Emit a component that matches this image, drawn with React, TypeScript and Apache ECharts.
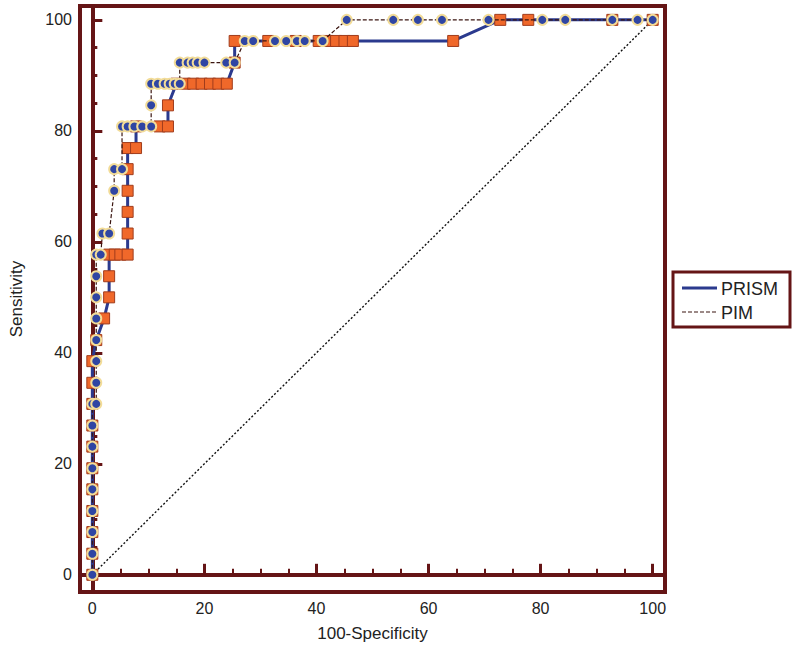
import React, { useEffect, useRef } from "react";
import * as echarts from "echarts";

// 100-Specificity (x) and Sensitivity (y) for each ROC curve
const prismSpec = [0, 0, 0, 0, 0, 0, 0, 0, 0, 0, 0, 0.7, 2.1, 3.0, 3.0, 3.0, 4.0, 5.0, 6.3, 6.3, 6.3, 6.3, 6.3, 6.3, 7.8, 7.8, 12.0, 13.5, 13.5, 15.0, 16.5, 18.0, 19.5, 21.0, 22.5, 24.0, 25.4, 25.4, 31.4, 36.3, 40.4, 42.0, 43.5, 45.0, 46.5, 64.4, 72.8, 77.8, 92.8, 100];
const prismSens = [0, 3.8, 7.7, 11.5, 15.4, 19.2, 23.1, 26.9, 30.8, 34.6, 38.5, 42.3, 46.2, 50.0, 53.8, 57.7, 57.7, 57.7, 57.7, 61.5, 65.4, 69.2, 73.1, 76.9, 76.9, 80.8, 80.8, 80.8, 84.6, 88.5, 88.5, 88.5, 88.5, 88.5, 88.5, 88.5, 92.3, 96.2, 96.2, 96.2, 96.2, 96.2, 96.2, 96.2, 96.2, 96.2, 100, 100, 100, 100];

const pimSpec = [0, 0, 0, 0, 0, 0, 0, 0, 0, 0.7, 0.7, 0.7, 0.7, 0.7, 0.7, 0.7, 0.7, 1.5, 1.8, 3.0, 3.9, 3.9, 5.3, 5.3, 6.3, 7.5, 8.9, 10.5, 10.5, 10.5, 11.7, 12.9, 13.8, 14.7, 15.6, 15.6, 17.0, 17.9, 18.8, 20.0, 23.9, 25.4, 27.2, 28.7, 32.6, 34.6, 36.5, 37.9, 41.1, 45.4, 53.7, 58.1, 62.4, 70.7, 80.3, 84.4, 92.8, 97.3, 100];
const pimSens = [0, 3.8, 7.7, 11.5, 15.4, 19.2, 23.1, 26.9, 30.8, 30.8, 34.6, 38.5, 42.3, 46.2, 50.0, 53.8, 57.7, 57.7, 61.5, 61.5, 69.2, 73.1, 73.1, 80.8, 80.8, 80.8, 80.8, 80.8, 84.6, 88.5, 88.5, 88.5, 88.5, 88.5, 88.5, 92.3, 92.3, 92.3, 92.3, 92.3, 92.3, 92.3, 96.2, 96.2, 96.2, 96.2, 96.2, 96.2, 96.2, 100, 100, 100, 100, 100, 100, 100, 100, 100, 100];

const diagonalX = [0, 100];
const diagonalY = [0, 100];

const majorTicks = [0, 20, 40, 60, 80, 100];
const minorTicks = [5, 10, 15, 25, 30, 35, 45, 50, 55, 65, 70, 75, 85, 90, 95];

const seriesNames = ["PRISM", "PIM"];

const MAROON = "#651516";
const FONT = "Liberation Sans, Arial, sans-serif";

const zip = (a: number[], b: number[]) => a.map((v, i) => [v, b[i]]);

export default function App() {
  const ref = useRef<HTMLDivElement>(null);
  useEffect(() => {
    if (!ref.current) return;
    const chart = echarts.init(ref.current, null, { renderer: "svg" });
    const xRange = { min: -2.2, max: 102.2 };
    const yRange = { min: -3.1, max: 102.5 };
    chart.setOption({
      animation: false,
      backgroundColor: "#ffffff",
      grid: {
        left: 80,
        right: 135,
        top: 6,
        bottom: 61,
        containLabel: false,
        outerBoundsMode: "none",
        show: true,
        borderColor: MAROON,
        borderWidth: 4,
      },
      xAxis: [
        {
          type: "value",
          ...xRange,
          name: "100-Specificity",
          nameLocation: "middle",
          nameGap: 33,
          nameTextStyle: { fontFamily: FONT, fontSize: 17, color: "#222" },
          axisLine: { show: true, lineStyle: { color: MAROON, width: 4 } },
          axisTick: { show: true, inside: true, length: 11, customValues: majorTicks, lineStyle: { color: MAROON, width: 3 } },
          axisLabel: { customValues: majorTicks, margin: 8, fontFamily: FONT, fontSize: 16, color: "#222" },
          splitLine: { show: false },
        },
        {
          type: "value",
          ...xRange,
          position: "bottom",
          axisLine: { show: false },
          axisTick: { show: true, inside: true, length: 6, customValues: minorTicks, lineStyle: { color: MAROON, width: 2 } },
          axisLabel: { show: false },
          splitLine: { show: false },
        },
      ],
      yAxis: [
        {
          type: "value",
          ...yRange,
          name: "Sensitivity",
          nameLocation: "middle",
          nameGap: 55,
          nameTextStyle: { fontFamily: FONT, fontSize: 17, color: "#222" },
          axisLine: { show: true, lineStyle: { color: MAROON, width: 4 } },
          axisTick: { show: true, inside: true, length: 10, customValues: majorTicks, lineStyle: { color: MAROON, width: 3 } },
          axisLabel: { customValues: majorTicks, margin: 8, fontFamily: FONT, fontSize: 16, color: "#222" },
          splitLine: { show: false },
        },
        {
          type: "value",
          ...yRange,
          position: "left",
          axisLine: { show: false },
          axisTick: { show: true, inside: true, length: 5, customValues: minorTicks, lineStyle: { color: MAROON, width: 3 } },
          axisLabel: { show: false },
          splitLine: { show: false },
        },
      ],
      series: [
        {
          type: "line",
          name: "diagonal",
          data: zip(diagonalX, diagonalY),
          showSymbol: false,
          lineStyle: { color: "#111", width: 1.4, type: [2, 2] },
          z: 1,
        },
        {
          type: "line",
          name: seriesNames[0],
          data: zip(prismSpec, prismSens),
          symbol: "rect",
          symbolSize: 11,
          itemStyle: { color: "#f0682a", borderColor: "#a03c1c", borderWidth: 1 },
          lineStyle: { color: "#2b3a8e", width: 3 },
          z: 2,
        },
        {
          type: "line",
          name: seriesNames[1],
          data: zip(pimSpec, pimSens),
          symbol: "circle",
          symbolSize: 10,
          itemStyle: { color: "#2f45a3", borderColor: "#f2dc98", borderWidth: 2 },
          lineStyle: { color: "#3a1510", width: 1.2, type: [4, 2] },
          z: 3,
        },
      ],
      graphic: [
        { type: "rect", shape: { x: 673, y: 272, width: 117, height: 55 }, style: { fill: "#fff", stroke: MAROON, lineWidth: 3 } },
        { type: "line", shape: { x1: 682, y1: 288, x2: 717, y2: 288 }, style: { stroke: "#2b3a8e", lineWidth: 3 } },
        { type: "line", shape: { x1: 682, y1: 312, x2: 717, y2: 312 }, style: { stroke: "#3a1510", lineWidth: 1.2, lineDash: [4, 2] } },
        { type: "text", x: 721, y: 289, style: { text: seriesNames[0], fontFamily: FONT, fontSize: 18, fill: "#222", textVerticalAlign: "middle" } },
        { type: "text", x: 721, y: 313, style: { text: seriesNames[1], fontFamily: FONT, fontSize: 18, fill: "#222", textVerticalAlign: "middle" } },
      ],
    });
    return () => chart.dispose();
  }, []);
  return <div ref={ref} style={{ width: 800, height: 653, position: "absolute", left: 0, top: 0 }} />;
}
